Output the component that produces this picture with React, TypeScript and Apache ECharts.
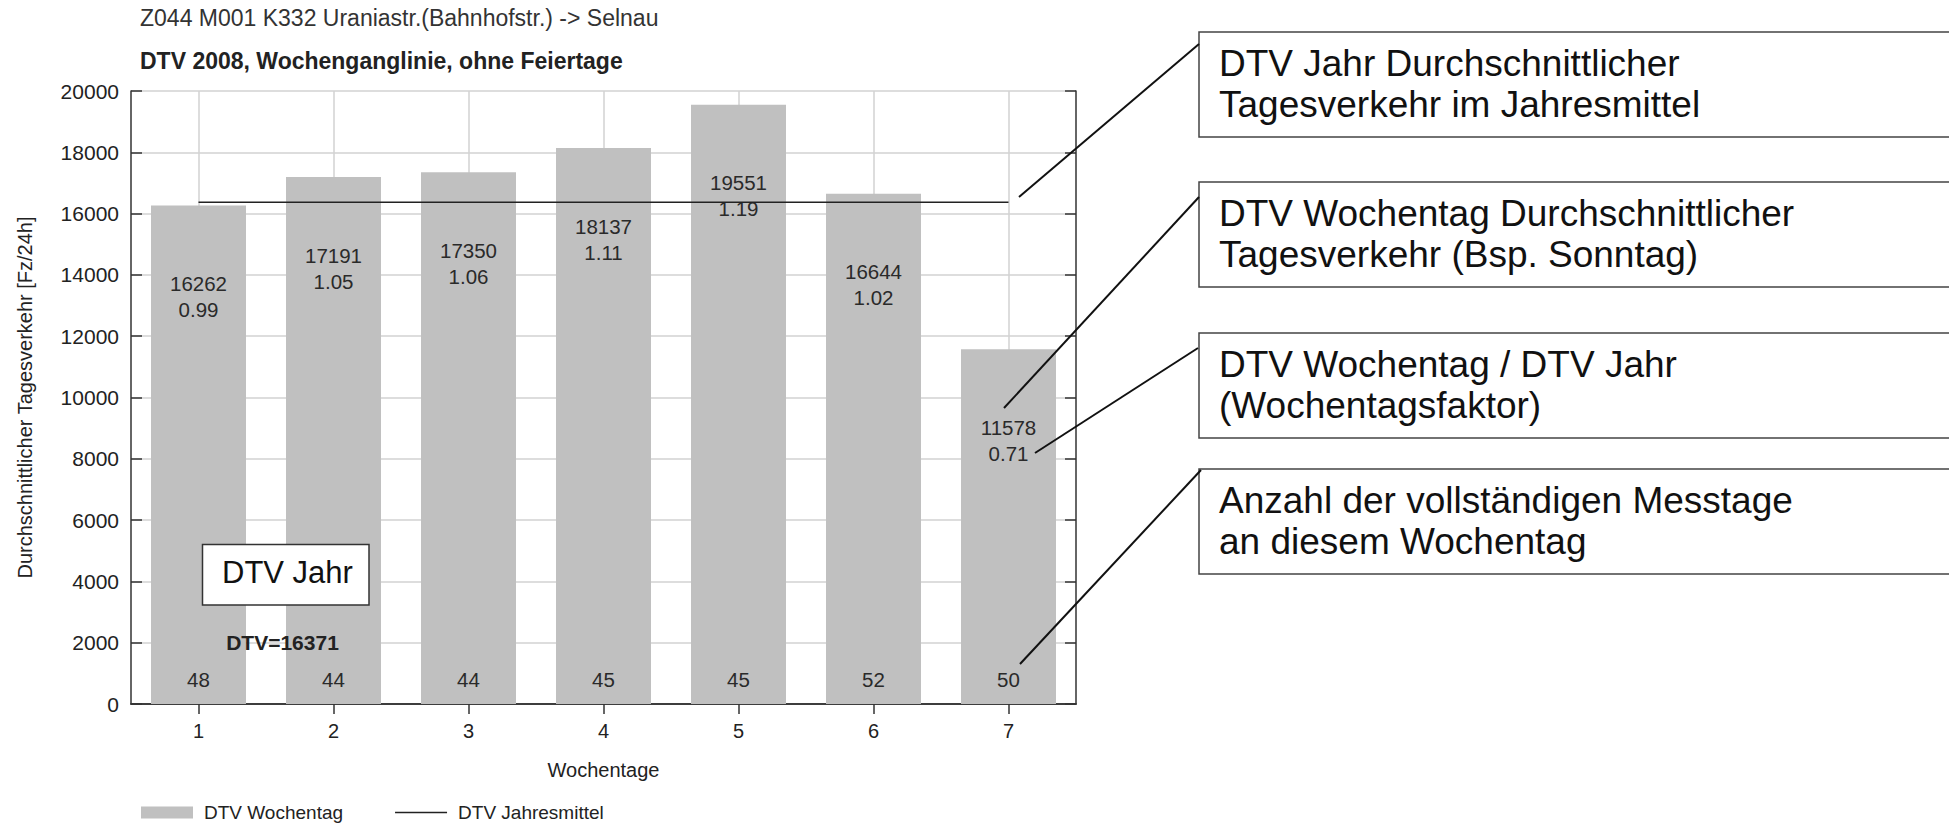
import React, { useEffect, useRef } from 'react';
import * as echarts from 'echarts';

// ---- data ----
const weekdays = ['1', '2', '3', '4', '5', '6', '7'];
const dtvWochentag = [16262, 17191, 17350, 18137, 19551, 16644, 11578];
const wochentagsfaktor = ['0.99', '1.05', '1.06', '1.11', '1.19', '1.02', '0.71'];
const messtage = [48, 44, 44, 45, 45, 52, 50];
const dtvJahr = 16371;

const titleText = 'Z044 M001 K332 Uraniastr.(Bahnhofstr.) -> Selnau';
const subtitleText = 'DTV 2008, Wochenganglinie, ohne Feiertage';
const xAxisName = 'Wochentage';
const yAxisName = 'Durchschnittlicher Tagesverkehr [Fz/24h]';
const legendBar = 'DTV Wochentag';
const legendLine = 'DTV Jahresmittel';
const boxLabel = 'DTV Jahr';
const annotationTexts = [
  ['DTV Jahr Durchschnittlicher', 'Tagesverkehr im Jahresmittel'],
  ['DTV Wochentag Durchschnittlicher', 'Tagesverkehr (Bsp. Sonntag)'],
  ['DTV Wochentag / DTV Jahr', '(Wochentagsfaktor)'],
  ['Anzahl der vollständigen Messtage', 'an diesem Wochentag'],
];

const FONT = '"Liberation Sans", Arial, sans-serif';

export default function App() {
  const ref = useRef<HTMLDivElement>(null);

  useEffect(() => {
    const chart = echarts.init(ref.current!, null, { renderer: 'svg' });
    const axisColor = '#333';
    const gridColor = '#d2d2d2';
    const txt = '#222';

    const boxTops = [32, 182, 333, 469];
    const leaders = [
      [1199, 44, 1019, 197],
      [1199, 197, 1004, 408],
      [1198, 348, 1035, 453],
      [1201, 470, 1020, 664],
    ];

    const elements: any[] = [];
    annotationTexts.forEach((lines, i) => {
      elements.push({
        type: 'rect', z: 100,
        shape: { x: 1199, y: boxTops[i], width: 800, height: 105 },
        style: { fill: '#fff', stroke: '#444', lineWidth: 1.5 },
      });
      elements.push({
        type: 'text', z: 101, x: 1219, y: boxTops[i] + 11,
        style: {
          text: lines.join('\n'), fontSize: 37, fontFamily: FONT, lineHeight: 41,
          fill: '#111', verticalAlign: 'top', align: 'left',
        },
      });
    });
    leaders.forEach((l) => {
      elements.push({
        type: 'line', z: 102,
        shape: { x1: l[0], y1: l[1], x2: l[2], y2: l[3] },
        style: { stroke: '#111', lineWidth: 2 },
      });
    });
    elements.push({
      type: 'rect', z: 100,
      shape: { x: 202.5, y: 544.5, width: 166.5, height: 60.5 },
      style: { fill: '#fff', stroke: '#333', lineWidth: 1.5 },
    });
    elements.push({
      type: 'text', z: 101, x: 222, y: 572,
      style: { text: boxLabel, fontSize: 31, fontFamily: FONT, fill: '#111', verticalAlign: 'middle', align: 'left' },
    });
    elements.push({
      type: 'text', z: 101, x: 282.5, y: 642,
      style: {
        text: `DTV=${dtvJahr}`, fontSize: 21, fontWeight: 'bold', fontFamily: FONT,
        fill: '#222', verticalAlign: 'middle', align: 'center',
      },
    });

    const lineStyle = { color: axisColor, width: 1.5 };

    const option: any = {
      animation: false,
      backgroundColor: '#fff',
      textStyle: { fontFamily: FONT },
      title: [
        {
          text: titleText, left: 140, top: 5, padding: 0,
          textStyle: { fontSize: 23, fontWeight: 'normal', color: '#333', fontFamily: FONT, lineHeight: 26 },
        },
        {
          text: subtitleText, left: 140, top: 48, padding: 0,
          textStyle: { fontSize: 23, fontWeight: 'bold', color: '#222', fontFamily: FONT, lineHeight: 26 },
        },
      ],
      grid: { left: 131, top: 91, right: 873, bottom: 119, containLabel: false },
      legend: {
        left: 141, top: 803, padding: 0, itemWidth: 52, itemHeight: 12, itemGap: 52,
        textStyle: { fontSize: 19, color: txt, fontFamily: FONT, padding: [0, 0, 0, 6] },
        data: [
          { name: legendBar, icon: 'rect' },
          { name: legendLine, icon: 'path://M0,0H52V1.5H0Z' },
        ],
      },
      xAxis: [
        {
          type: 'category', data: weekdays, position: 'bottom', boundaryGap: true,
          axisLine: { show: true, lineStyle },
          axisTick: { show: true, inside: true, alignWithLabel: true, length: 10, lineStyle },
          axisLabel: { fontSize: 20, color: txt, margin: 17, fontFamily: FONT },
          splitLine: { show: true, alignWithLabel: true, lineStyle: { color: gridColor, width: 1.5 } },
          name: xAxisName, nameLocation: 'middle', nameGap: 56,
          nameTextStyle: { fontSize: 20, color: txt, fontFamily: FONT },
        },
        {
          type: 'category', data: weekdays, position: 'top', boundaryGap: true,
          axisLine: { show: true, lineStyle },
          axisTick: { show: true, inside: true, alignWithLabel: true, length: 10, lineStyle },
          axisLabel: { show: false },
          splitLine: { show: false },
        },
      ],
      yAxis: [
        {
          type: 'value', min: 0, max: 20000, interval: 2000, position: 'left',
          axisLine: { show: true, lineStyle },
          axisTick: { show: true, inside: true, length: 11, lineStyle },
          axisLabel: {
            fontSize: 21, color: txt, margin: 12, fontFamily: FONT,
            formatter: (v: number) => String(v),
          },
          splitLine: { show: true, lineStyle: { color: gridColor, width: 1.5 } },
          name: yAxisName, nameLocation: 'middle', nameGap: 96, nameRotate: 90,
          nameTextStyle: { fontSize: 20, color: txt, fontFamily: FONT },
        },
        {
          type: 'value', min: 0, max: 20000, interval: 2000, position: 'right',
          axisLine: { show: true, lineStyle },
          axisTick: { show: true, inside: true, length: 11, lineStyle },
          axisLabel: { show: false },
          splitLine: { show: false },
        },
      ],
      series: [
        {
          type: 'bar', name: legendBar, data: dtvWochentag, barWidth: 95, barGap: '-100%',
          itemStyle: { color: '#c0c0c0' },
          label: {
            show: true, position: 'insideTop', distance: 65, fontSize: 20.5, lineHeight: 26,
            color: '#2a2a2a', fontFamily: FONT,
            formatter: (p: any) => `${p.value}\n${wochentagsfaktor[p.dataIndex]}`,
          },
        },
        {
          type: 'bar', name: 'Messtage', data: dtvWochentag, barWidth: 95, barGap: '-100%',
          itemStyle: { color: 'rgba(0,0,0,0)' }, silent: true,
          label: {
            show: true, position: 'insideBottom', distance: 15, fontSize: 20.5, lineHeight: 20,
            color: '#2a2a2a', fontFamily: FONT,
            formatter: (p: any) => String(messtage[p.dataIndex]),
          },
        },
        {
          type: 'line', name: legendLine, z: 5, symbol: 'none', showSymbol: false,
          data: [[weekdays[0], dtvJahr], [weekdays[weekdays.length - 1], dtvJahr]],
          lineStyle: { color: '#222', width: 1.5 },
          itemStyle: { color: '#222' },
        },
      ],
      graphic: { elements },
    };

    chart.setOption(option);
    return () => chart.dispose();
  }, []);

  return (
    <div
      ref={ref}
      style={{ position: 'fixed', left: 0, top: 0, width: 1949, height: 823, background: '#fff' }}
    />
  );
}
